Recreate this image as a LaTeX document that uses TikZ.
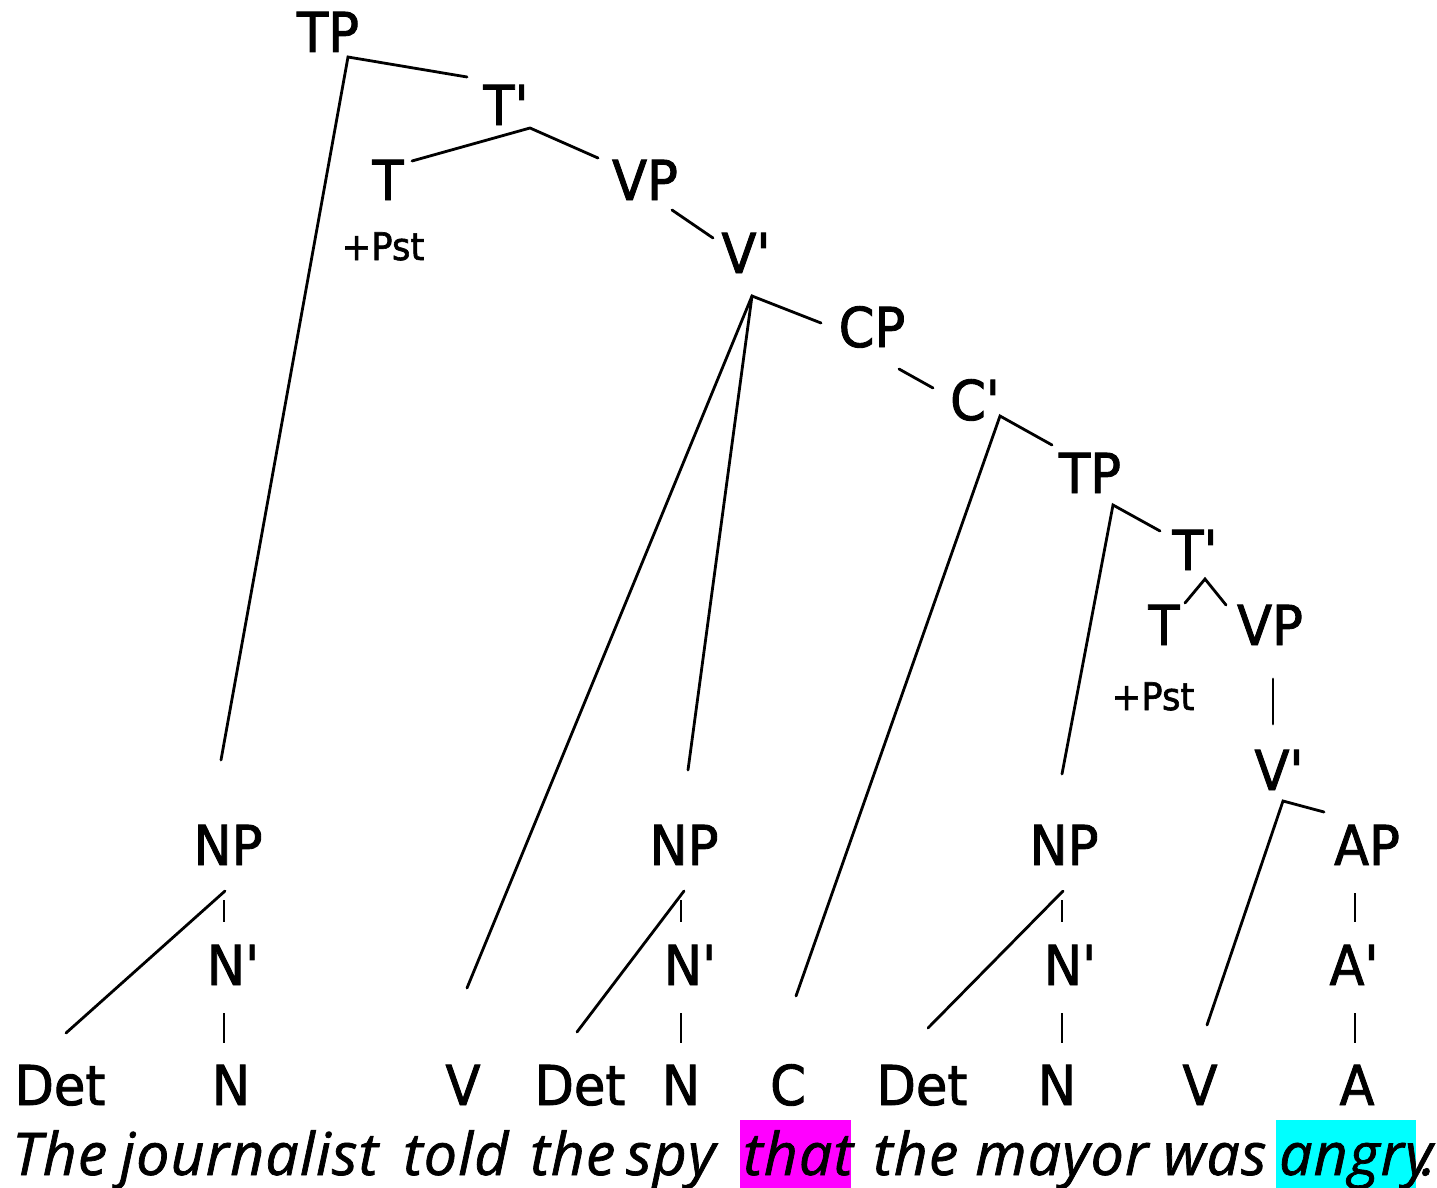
\documentclass[tikz,border=0pt]{standalone}
\usepackage{fontspec}
\newfontfamily\labfont{DejaVu Sans}[FakeStretch=0.93,FakeBold=1.6]
\newfontfamily\sentfont{Open Sans}[LetterSpace=2,FakeBold=1.2]
\definecolor{hlmag}{RGB}{255,0,255}
\definecolor{hlcyan}{RGB}{0,255,255}
\begin{document}
\begin{tikzpicture}[x=1pt,y=-1pt,
  lab/.style={font=\labfont\fontsize{55}{60}\selectfont, inner sep=0pt, anchor=base},
  feat/.style={font=\labfont\fontsize{38}{42}\selectfont, inner sep=0pt, anchor=base},
  word/.style={font=\sentfont\itshape\fontsize{59}{64}\selectfont, inner sep=0pt, anchor=base west},
  edge/.style={line width=2.8pt, line cap=round},
  thin/.style={line width=1.6pt}]
\useasboundingbox (0,0) rectangle (1437,1188);
% highlights
\fill[hlmag] (740,1120) rectangle (851,1188);
\fill[hlcyan] (1276,1120) rectangle (1416,1188);
% labels
\node[lab] (TP1) at (328,52) {TP};
\node[lab] (Tb1) at (506,125) {T'};
\node[lab] (T1) at (388,200) {T};
\node[feat] (P1) at (383,260) {+Pst};
\node[lab] (VP1) at (645,200) {VP};
\node[lab] (Vb1) at (746,273) {V'};
\node[lab] (CP) at (872,347) {CP};
\node[lab] (Cb) at (975,420) {C'};
\node[lab] (TP2) at (1090,493) {TP};
\node[lab] (Tb2) at (1195,570) {T'};
\node[lab] (T2) at (1164,645) {T};
\node[feat] (P2) at (1153,710) {+Pst};
\node[lab] (VP2) at (1270,645) {VP};
\node[lab] (Vb2) at (1279,790) {V'};
\node[lab] (AP) at (1367,865) {AP};
\node[lab] (Ab) at (1354,985) {A'};
\node[lab] (NP1) at (228,865) {NP};
\node[lab] (Nb1) at (233,985) {N'};
\node[lab] (NP2) at (684,865) {NP};
\node[lab] (Nb2) at (690,985) {N'};
\node[lab] (NP3) at (1064,865) {NP};
\node[lab] (Nb3) at (1070,985) {N'};
\node[lab] (Det1) at (60,1105) {Det};
\node[lab] (N1) at (231,1105) {N};
\node[lab] (V1) at (463,1105) {V};
\node[lab] (Det2) at (580,1105) {Det};
\node[lab] (N2) at (681,1105) {N};
\node[lab] (C) at (788,1105) {C};
\node[lab] (Det3) at (922,1105) {Det};
\node[lab] (N3) at (1057,1105) {N};
\node[lab] (V2) at (1200,1105) {V};
\node[lab] (A) at (1357,1105) {A};
% sentence
\node[word] (w1) at (12,1175) {The};
\node[word] (w2) at (120,1175) {journalist};
\node[word] (w3) at (403,1175) {told};
\node[word] (w4) at (530,1175) {the};
\node[word] (w5) at (626,1175) {spy};
\node[word] (w6) at (743,1175) {that};
\node[word] (w7) at (873,1175) {the};
\node[word] (w8) at (975,1175) {mayor};
\node[word] (w9) at (1163,1175) {was};
\node[word] (w10) at (1279,1175) {angry};
\node[word] (w11) at (1421,1175) {.};
% attachment points
\coordinate (TP1d) at (348,57);   \coordinate (Tb1u) at (467,77);
\coordinate (NP1u) at (221,760);
\coordinate (Tb1d) at (530,128);  \coordinate (T1u) at (412,161);
\coordinate (VP1u) at (598,158);
\coordinate (VP1d) at (672,210);  \coordinate (Vb1u) at (713,238);
\coordinate (Vb1d) at (752,296);  \coordinate (CPu) at (821,323);
\coordinate (V1u) at (467,988);   \coordinate (NP2u) at (688,770);
\coordinate (CPd) at (899,369);   \coordinate (Cbu) at (933,388);
\coordinate (Cbd) at (1000,416);  \coordinate (TP2u) at (1052,445);
\coordinate (Cu) at (796,996);
\coordinate (TP2d) at (1113,505); \coordinate (Tb2u) at (1160,531);
\coordinate (NP3u) at (1062,774);
\coordinate (Tb2d) at (1205,579); \coordinate (T2u) at (1185,603);
\coordinate (VP2u) at (1226,605);
\coordinate (VP2d) at (1273,679); \coordinate (Vb2u) at (1273,724);
\coordinate (Vb2d) at (1283,801); \coordinate (APu) at (1324,812);
\coordinate (V2u) at (1207,1025);
\coordinate (APd) at (1355,893);  \coordinate (Abu) at (1355,922);
\coordinate (Abd) at (1355,1013); \coordinate (Au) at (1355,1043);
\coordinate (NP1d) at (225,891);  \coordinate (Det1u) at (66,1033);
\coordinate (NP1v) at (224,900);  \coordinate (Nb1u) at (224,922);
\coordinate (Nb1d) at (224,1013); \coordinate (N1u) at (224,1043);
\coordinate (NP2d) at (684,891);  \coordinate (Det2u) at (577,1032);
\coordinate (NP2v) at (681,900);  \coordinate (Nb2u) at (681,922);
\coordinate (Nb2d) at (681,1013); \coordinate (N2u) at (681,1043);
\coordinate (NP3d) at (1063,891); \coordinate (Det3u) at (928,1028);
\coordinate (NP3v) at (1062,900); \coordinate (Nb3u) at (1062,922);
\coordinate (Nb3d) at (1062,1013);\coordinate (N3u) at (1062,1043);
% connectors
\draw[edge] (Tb1u) -- (TP1d) -- (NP1u);
\draw[edge] (T1u) -- (Tb1d) -- (VP1u);
\draw[edge] (VP1d) -- (Vb1u);
\draw[edge] (CPu) -- (Vb1d) -- (V1u);
\draw[edge] (Vb1d) -- (NP2u);
\draw[edge] (CPd) -- (Cbu);
\draw[edge] (TP2u) -- (Cbd) -- (Cu);
\draw[edge] (Tb2u) -- (TP2d) -- (NP3u);
\draw[edge] (T2u) -- (Tb2d) -- (VP2u);
\draw[edge] (VP2d) -- (Vb2u);
\draw[edge] (APu) -- (Vb2d) -- (V2u);
\draw[edge] (NP1d) -- (Det1u);
\draw[edge] (NP2d) -- (Det2u);
\draw[edge] (NP3d) -- (Det3u);
\draw[thin] (APd) -- (Abu);
\draw[thin] (Abd) -- (Au);
\draw[thin] (NP1v) -- (Nb1u);
\draw[thin] (Nb1d) -- (N1u);
\draw[thin] (NP2v) -- (Nb2u);
\draw[thin] (Nb2d) -- (N2u);
\draw[thin] (NP3v) -- (Nb3u);
\draw[thin] (Nb3d) -- (N3u);
\end{tikzpicture}
\end{document}
